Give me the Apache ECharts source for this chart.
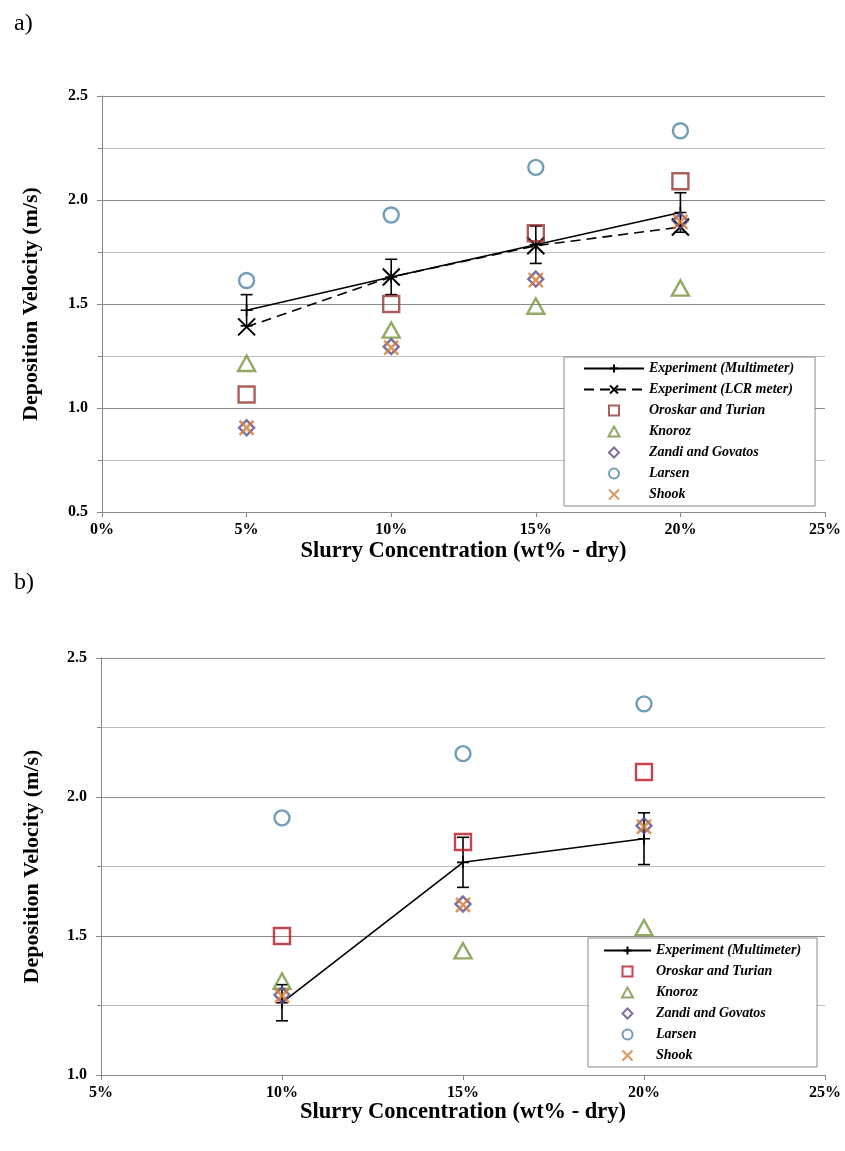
<!DOCTYPE html>
<html>
<head>
<meta charset="utf-8">
<script src="https://cdn.jsdelivr.net/npm/echarts@6/dist/echarts.min.js"></script>
<style>
html,body{margin:0;padding:0;background:#fff;}
#a{position:absolute;left:0;top:0;width:845px;height:570px;}
#b{position:absolute;left:0;top:565px;width:845px;height:586px;}
</style>
</head>
<body>
<div id="a"></div>
<div id="b"></div>
<script>
// ---------- data, chart a ----------
const concA = [5, 10, 15, 20];
const multiA = [1.47, 1.63, 1.785, 1.94];
const multiErrA = [0.075, 0.085, 0.09, 0.095];
const lcrA = [1.39, 1.63, 1.78, 1.87];
const oroskarA = [1.065, 1.50, 1.84, 2.09];
const knorozA = [1.215, 1.375, 1.49, 1.577];
const zandiA = [0.905, 1.295, 1.62, 1.90];
const larsenA = [1.613, 1.928, 2.157, 2.333];
const shookA = [0.905, 1.29, 1.615, 1.895];
// ---------- data, chart b ----------
const concB = [10, 15, 20];
const multiB = [1.26, 1.765, 1.85];
const multiErrB = [0.065, 0.09, 0.093];
const oroskarB = [1.50, 1.838, 2.09];
const knorozB = [1.338, 1.447, 1.53];
const zandiB = [1.288, 1.615, 1.897];
const larsenB = [1.925, 2.156, 2.335];
const shookB = [1.285, 1.612, 1.893];

const xTitle = 'Slurry Concentration (wt% - dry)';
const yTitle = 'Deposition Velocity (m/s)';
const names = ['Experiment (Multimeter)', 'Experiment (LCR meter)', 'Oroskar and Turian', 'Knoroz', 'Zandi and Govatos', 'Larsen', 'Shook'];

const FONT = 'Liberation Serif';
const PLUS = 'path://M0,5L10,5M5,0L5,10';
const CROSS = 'path://M0,0L10,10M10,0L0,10';
const SQUARE = 'path://M0,0L10,0L10,10L0,10Z';
const TRI = 'path://M5,0L10,9L0,9Z';
const DIAM = 'path://M5,0L10,5L5,10L0,5Z';

function pairs(xs, ys) { return xs.map((x, i) => [x, ys[i]]); }
function triples(xs, ys, es) { return xs.map((x, i) => [x, ys[i], es[i]]); }

function errSeries(data) {
  return {
    type: 'custom', silent: true, z: 3,
    data: data,
    renderItem: function (params, api) {
      const x = api.value(0), y = api.value(1), e = api.value(2);
      const t = api.coord([x, y + e]);
      const b = api.coord([x, y - e]);
      const st = { stroke: '#000', lineWidth: 1.6 };
      return { type: 'group', children: [
        { type: 'line', shape: { x1: t[0], y1: t[1], x2: b[0], y2: b[1] }, style: st },
        { type: 'line', shape: { x1: t[0] - 6, y1: t[1], x2: t[0] + 6, y2: t[1] }, style: st },
        { type: 'line', shape: { x1: b[0] - 6, y1: b[1], x2: b[0] + 6, y2: b[1] }, style: st }
      ]};
    }
  };
}

function scat(name, data, symbol, size, color, bw, filled) {
  return {
    name: name, type: 'scatter', data: data, symbol: symbol, symbolSize: size, symbolKeepAspect: true, silent: true, z: 4,
    itemStyle: { color: filled ? color : 'rgba(0,0,0,0)', borderColor: color, borderWidth: bw }
  };
}

function axes(xmin, ymin, yTitleGap, xGap) {
  return {
    xAxis: {
      type: 'value', min: xmin, max: 25, interval: 5,
      name: xTitle, nameLocation: 'middle', nameGap: xGap, nameMoveOverlap: false,
      nameTextStyle: { fontFamily: FONT, fontWeight: 'bold', fontSize: 22.5, color: '#000' },
      axisLine: { show: true, onZero: false, lineStyle: { color: '#868686', width: 1 } },
      axisTick: { show: true, length: 5, lineStyle: { color: '#868686' } },
      axisLabel: { formatter: '{value}%', fontFamily: FONT, fontWeight: 'bold', fontSize: 16, color: '#000', margin: 10 },
      splitLine: { show: false }
    },
    yAxis: {
      type: 'value', min: ymin, max: 2.5, interval: 0.5,
      name: yTitle, nameLocation: 'middle', nameGap: yTitleGap, nameMoveOverlap: false,
      nameTextStyle: { fontFamily: FONT, fontWeight: 'bold', fontSize: 22, color: '#000' },
      axisLine: { show: true, onZero: false, lineStyle: { color: '#868686', width: 1 } },
      axisTick: { show: true, length: 5, lineStyle: { color: '#868686' } },
      minorTick: { show: true, splitNumber: 2, length: 4, lineStyle: { color: '#868686' } },
      axisLabel: { formatter: v => v.toFixed(1), fontFamily: FONT, fontWeight: 'bold', fontSize: 16, color: '#000', margin: 14 },
      splitLine: { show: true, lineStyle: { color: '#8a8a8a', width: 1.2 } },
      minorSplitLine: { show: true, lineStyle: { color: '#bdbdbd', width: 1.2 } }
    }
  };
}

function legend(left, top, itemWidth, data, pad) {
  return {
    show: true, orient: 'vertical', left: left, top: top, data: data,
    itemWidth: itemWidth, itemHeight: 10, itemGap: 6, symbolKeepAspect: true,
    backgroundColor: '#fff', borderColor: '#8a8a8a', borderWidth: 1, borderRadius: 0,
    padding: pad, selectedMode: false,
    textStyle: { fontFamily: FONT, fontWeight: 'bold', fontStyle: 'italic', fontSize: 14, color: '#000', lineHeight: 15 }
  };
}

// ---------- chart a ----------
const ca = echarts.init(document.getElementById('a'));
const axA = axes(0, 0.5, 60, 28);
ca.setOption({
  animation: false,
  title: { text: 'a)', left: 9, top: 7, textStyle: { fontFamily: FONT, fontWeight: 'normal', fontSize: 24, color: '#000' } },
  grid: { left: 102, right: 20, top: 96, bottom: 58, containLabel: false, outerBoundsMode: 'none' },
  xAxis: axA.xAxis, yAxis: axA.yAxis,
  legend: legend(564, 357, 60, names, [4, 21, 4, 19]),
  series: [
    errSeries(triples(concA, multiA, multiErrA)),
    { name: names[0], type: 'line', data: pairs(concA, multiA), symbol: PLUS, symbolSize: 12, symbolKeepAspect: true, silent: true, z: 3,
      lineStyle: { color: '#000', width: 1.6 }, itemStyle: { color: '#000', borderColor: '#000', borderWidth: 1.6 } },
    { name: names[1], type: 'line', data: pairs(concA, lcrA), symbol: CROSS, symbolSize: 17, symbolKeepAspect: true, silent: true, z: 3,
      lineStyle: { color: '#000', width: 1.6, type: [10, 6] }, itemStyle: { color: '#000', borderColor: '#000', borderWidth: 2 } },
    scat(names[2], pairs(concA, oroskarA), SQUARE, 16, '#953735', 2.4, false),
    scat(names[3], pairs(concA, knorozA), TRI, 17, '#77933C', 2.4, false),
    scat(names[4], pairs(concA, zandiA), DIAM, 15, '#5F4A8B', 2.4, false),
    scat(names[5], pairs(concA, larsenA), 'circle', 15, '#4F84A6', 2.4, false),
    scat(names[6], pairs(concA, shookA), CROSS, 14, '#D27C34', 2.6, true)
  ]
});

// ---------- chart b ----------
const cb = echarts.init(document.getElementById('b'));
const namesB = [names[0], names[2], names[3], names[4], names[5], names[6]];
const axB = axes(5, 1.0, 58, 26);
cb.setOption({
  animation: false,
  title: { text: 'b)', left: 9, top: 1, textStyle: { fontFamily: FONT, fontWeight: 'normal', fontSize: 24, color: '#000' } },
  grid: { left: 101, right: 20, top: 93, bottom: 76, containLabel: false, outerBoundsMode: 'none' },
  xAxis: axB.xAxis, yAxis: axB.yAxis,
  legend: legend(588, 373, 47, namesB, [5, 16, 4, 15]),
  series: [
    errSeries(triples(concB, multiB, multiErrB)),
    { name: names[0], type: 'line', data: pairs(concB, multiB), symbol: PLUS, symbolSize: 12, symbolKeepAspect: true, silent: true, z: 3,
      lineStyle: { color: '#000', width: 1.6 }, itemStyle: { color: '#000', borderColor: '#000', borderWidth: 1.6 } },
    scat(names[2], pairs(concB, oroskarB), SQUARE, 16, '#B5171E', 2.4, false),
    scat(names[3], pairs(concB, knorozB), TRI, 17, '#77933C', 2.4, false),
    scat(names[4], pairs(concB, zandiB), DIAM, 15, '#5F4A8B', 2.4, false),
    scat(names[5], pairs(concB, larsenB), 'circle', 15, '#4F84A6', 2.4, false),
    scat(names[6], pairs(concB, shookB), CROSS, 14, '#D27C34', 2.6, true)
  ]
});
</script>
</body>
</html>
